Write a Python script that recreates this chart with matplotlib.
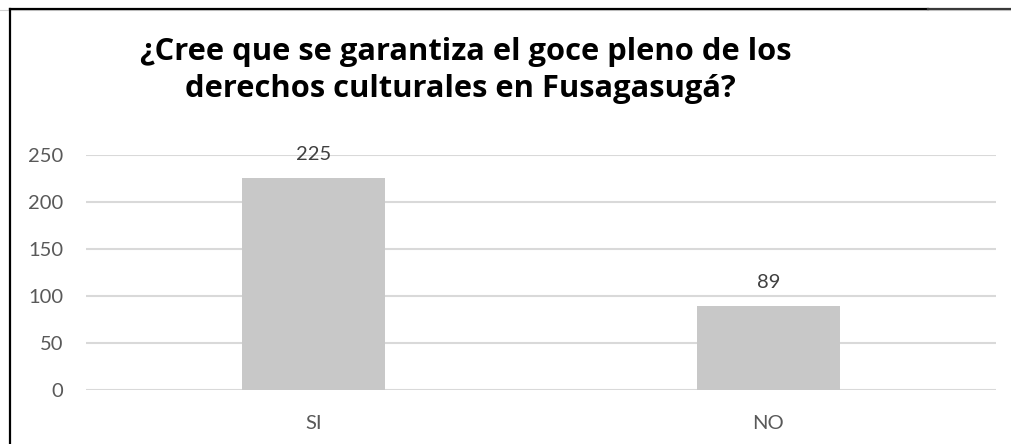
import matplotlib
matplotlib.use("Agg")
import matplotlib.pyplot as plt
from matplotlib.lines import Line2D

categories = ["SI", "NO"]
values = [225, 89]
y_ticks = [0, 50, 100, 150, 200, 250]
title_lines = ["¿Cree que se garantiza el goce pleno de los",
               "derechos culturales en Fusagasugá?"]

W, H = 1011, 444
DPI = 100
fig = plt.figure(figsize=(W / DPI, H / DPI), dpi=DPI)
plt.rcParams['font.family'] = ['Lato', 'DejaVu Sans']

ax = fig.add_axes([86 / W, (H - 390) / H, (996 - 86) / W, (390 - 155) / H])
x = list(range(len(categories)))
ax.bar(x, values, width=0.314, color="#c8c8c8", zorder=2)
ax.set_xlim(-0.5, len(categories) - 0.5)
ax.set_ylim(0, 250)
ax.set_yticks(y_ticks)
ax.set_xticks(x)
ax.set_xticklabels(categories)
ax.yaxis.grid(True, color="#d9d9d9", linewidth=1.5, zorder=0)
ax.set_axisbelow(True)
for s in ax.spines.values():
    s.set_visible(False)
ax.tick_params(axis="y", length=0, pad=16.5, labelsize=14.5, labelcolor="#595959")
ax.tick_params(axis="x", length=0, pad=18, labelsize=14.5, labelcolor="#595959")

for xi, v in zip(x, values):
    ax.annotate(str(v), (xi, v), xytext=(0, 17.5), textcoords="offset points",
                ha="center", va="center", fontsize=14.5, color="#404040")

title_font = ['Open Sans', 'DejaVu Sans']
fig.text(466 / W, 1 - 60 / H, title_lines[0], ha="center", va="baseline",
         fontsize=22.2, fontweight="bold", color="black", family=title_font)
fig.text(460 / W, 1 - 97 / H, title_lines[1], ha="center", va="baseline",
         fontsize=22.2, fontweight="bold", color="black", family=title_font)

# chart frame (partially visible)
fig.add_artist(Line2D([0, 1], [1 - 10.5 / H, 1 - 10.5 / H], color="#d0d0d0", linewidth=0.8))
fig.add_artist(Line2D([9.5 / W, 928 / W], [1 - 9.5 / H, 1 - 9.5 / H], color="black", linewidth=1.6))
fig.add_artist(Line2D([928 / W, 1], [1 - 8.8 / H, 1 - 8.8 / H], color="#3a3a3a", linewidth=1.6))
fig.add_artist(Line2D([9.5 / W, 9.5 / W], [0, 1 - 9.5 / H], color="black", linewidth=1.6))

fig.savefig("out.png", dpi=DPI)
